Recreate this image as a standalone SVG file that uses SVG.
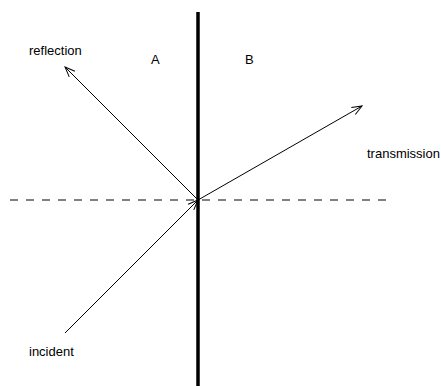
<svg xmlns="http://www.w3.org/2000/svg" width="441" height="386" viewBox="0 0 441 386">
<style>
text{font-family:"Liberation Sans",Arial,sans-serif;font-size:13px;fill:#000}
.ray{stroke:#000;stroke-width:1;fill:none;marker-end:url(#arr)}
</style>
<defs>
<marker id="arr" markerUnits="userSpaceOnUse" markerWidth="14" markerHeight="14" refX="10" refY="5" orient="auto" viewBox="0 0 14 10">
<polyline points="0,1 10,5 0,9" fill="none" stroke="#000" stroke-width="1"/>
</marker>
</defs>
<rect width="441" height="386" fill="#fff"/>
<g id="connectors">
<line x1="10" y1="200" x2="386" y2="200" stroke="#000" stroke-width="1" stroke-dasharray="8,8"/>
<line x1="198" y1="12" x2="198" y2="386" stroke="#000" stroke-width="3.5"/>
<line class="ray" x1="65" y1="333" x2="198" y2="200"/>
<line class="ray" x1="198" y1="200" x2="65" y2="67"/>
<line class="ray" x1="198" y1="200" x2="362" y2="106"/>
</g>
<g id="label-reflection"><text x="29" y="55">reflection</text></g>
<g id="label-A"><text x="151" y="64">A</text></g>
<g id="label-B"><text x="245" y="64">B</text></g>
<g id="label-transmission"><text x="367" y="158">transmission</text></g>
<g id="label-incident"><text x="29" y="356">incident</text></g>
</svg>
